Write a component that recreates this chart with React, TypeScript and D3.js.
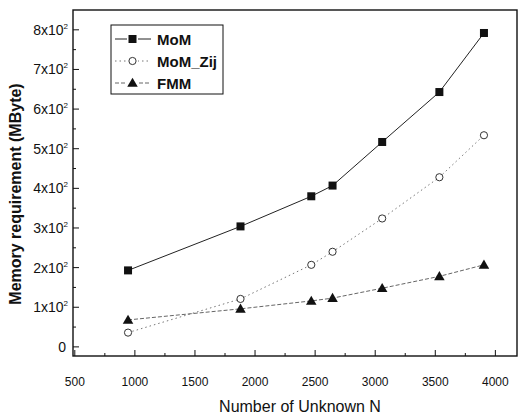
import React from 'react';
import * as d3 from 'd3';

// values
const unknownsN = [943, 1879, 2468, 2645, 3058, 3534, 3905];
const momValues = [193, 304, 380, 407, 517, 643, 792];
const momZijValues = [36, 121, 207, 240, 324, 428, 534];
const fmmValues = [68, 96, 116, 123, 148, 178, 207];
const xTicks = [500, 1000, 1500, 2000, 2500, 3000, 3500, 4000];
const yTicks = [0, 1, 2, 3, 4, 5, 6, 7, 8];
const seriesNames = ['MoM', 'MoM_Zij', 'FMM'];

const W = 521, H = 418;
const left = 73, right = 517, top = 10, bottom = 356;

function App() {
  const x = d3.scaleLinear().domain([485, 4180]).range([left, right]);
  const y = d3.scaleLinear().domain([-23, 850]).range([bottom, top]);

  const line = d3.line<number>()
    .x((d, i) => x(unknownsN[i]))
    .y(d => y(d));

  const series = [
    { name: seriesNames[0], values: momValues, dash: null, stroke: '#222', marker: 'square' },
    { name: seriesNames[1], values: momZijValues, dash: '1.5,3', stroke: '#777', marker: 'circle' },
    { name: seriesNames[2], values: fmmValues, dash: '4,2', stroke: '#666', marker: 'triangle' },
  ];

  const marker = (kind: string, cx: number, cy: number, key: any) => {
    if (kind === 'square') return <rect key={key} x={cx - 4} y={cy - 4} width={8} height={8} fill="#111" />;
    if (kind === 'circle') return <circle key={key} cx={cx} cy={cy} r={3.6} fill="white" stroke="#333" strokeWidth={1} />;
    const tri = d3.symbol().type(d3.symbolTriangle).size(48)();
    return <path key={key} d={tri!} transform={`translate(${cx},${cy + 0.8})`} fill="#111" />;
  };

  const minorX = d3.range(750, 4180, 500);
  const minorY = d3.range(0.5, 8.5, 1).map(v => v * 100);

  return (
    <svg width={W} height={H} style={{ position: 'absolute', left: 0, top: 0, background: 'white' }}
      fontFamily="'Liberation Sans', Arial, sans-serif">
      <rect x={left} y={top} width={right - left} height={bottom - top} fill="none" stroke="#111" strokeWidth={1.4} />

      {/* x ticks */}
      {xTicks.map(t => (
        <g key={'xt' + t}>
          <line x1={x(t)} x2={x(t)} y1={bottom} y2={bottom - 6} stroke="#111" />
          <text x={x(t)} y={386} textAnchor="middle" fontSize={12} fill="#111">{t}</text>
        </g>
      ))}
      {minorX.map(t => (
        <line key={'xm' + t} x1={x(t)} x2={x(t)} y1={bottom} y2={bottom - 3} stroke="#111" />
      ))}

      {/* y ticks */}
      {yTicks.map(t => (
        <g key={'yt' + t}>
          <line x1={left} x2={left + 6} y1={y(t * 100)} y2={y(t * 100)} stroke="#111" />
          {t === 0
            ? <text x={66} y={y(0) + 5} textAnchor="end" fontSize={14} fill="#111">0</text>
            : <text x={68} y={y(t * 100) + 5} textAnchor="end" fontSize={14} fill="#111">
                {t}x10<tspan fontSize={8} dy={-6}>2</tspan>
              </text>}
        </g>
      ))}
      {minorY.map(t => (
        <line key={'ym' + t} x1={left} x2={left + 3} y1={y(t)} y2={y(t)} stroke="#111" />
      ))}

      {/* series */}
      {series.map(s => (
        <g key={s.name}>
          <path d={line(s.values)!} fill="none" stroke={s.stroke} strokeWidth={1}
            strokeDasharray={s.dash ?? undefined} />
          {s.values.map((v, i) => marker(s.marker, x(unknownsN[i]), y(v), i))}
        </g>
      ))}

      {/* legend */}
      <g>
        <rect x={111} y={25} width={112} height={69} fill="white" stroke="#111" strokeWidth={1} />
        {series.map((s, i) => {
          const ly = 39 + i * 22;
          return (
            <g key={'lg' + s.name}>
              <line x1={115} x2={151} y1={ly} y2={ly} stroke={s.stroke} strokeDasharray={s.dash ?? undefined} />
              <rect x={127} y={ly - 5} width={11} height={10} fill="white" />
              {marker(s.marker, 132.5, ly, 'm' + i)}
              <text x={157} y={ly + 6} fontSize={15} fontWeight="bold" fill="#111">{s.name}</text>
            </g>
          );
        })}
      </g>

      {/* axis titles */}
      <text x={300} y={412} textAnchor="middle" fontSize={16} fill="#111">Number of Unknown N</text>
      <text transform={`translate(21,194) rotate(-90)`} textAnchor="middle"
        fontSize={16} fontWeight="bold" fill="#111">Memory requirement  (MByte)</text>
    </svg>
  );
}

export default App;
